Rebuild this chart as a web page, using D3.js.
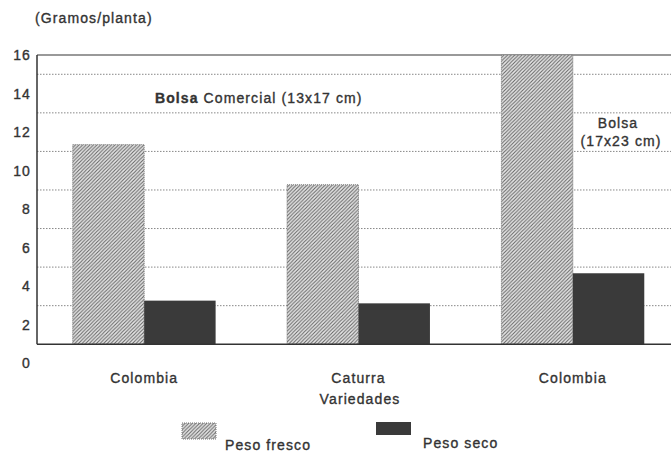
<!DOCTYPE html>
<html>
<head>
<meta charset="utf-8">
<script src="https://cdn.jsdelivr.net/npm/d3@7"></script>
<style>
  body { margin: 0; background: #fff; }
  text { font-family: "Liberation Sans", Arial, sans-serif; font-size: 14px; fill: #333; letter-spacing: 1.1px; stroke: #333; stroke-width: 0.35px; }
</style>
</head>
<body>
<div id="target"></div>
<script>
const width = 671,
  height = 454;

// data
const variedades = ["Colombia", "Caturra", "Colombia"];
const series = ["Peso fresco", "Peso seco"];
const pesoFresco = [11.35, 9.27, 16];
const pesoSeco = [3.26, 3.12, 4.68];
const yTicks = [0, 2, 4, 6, 8, 10, 12, 14, 16];
const gridValues = [3, 5, 7, 9, 11, 13, 15];
const baseValue = 1;

const left = 37,
  right = 680;

const y = d3.scaleLinear()
  .domain([0, 16])
  .range([363.5, 55]);

const x0 = d3.scaleBand()
  .domain(d3.range(variedades.length))
  .range([left, right])
  .paddingInner(1 / 3)
  .paddingOuter(1 / 6);

const x1 = d3.scaleBand()
  .domain(series)
  .range([0, x0.bandwidth()]);

const svg = d3.select("#target").append("svg")
  .attr("width", width)
  .attr("height", height);

const defs = svg.append("defs");
const hatch = defs.append("pattern")
  .attr("id", "hatch")
  .attr("patternUnits", "userSpaceOnUse")
  .attr("width", 3.6)
  .attr("height", 3.6);
hatch.append("rect")
  .attr("width", 3.6)
  .attr("height", 3.6)
  .attr("fill", "#e8e8e8");
hatch.append("path")
  .attr("d", "M-0.9,0.9 l1.8,-1.8 M0,3.6 l3.6,-3.6 M2.7,4.5 l1.8,-1.8")
  .attr("stroke", "#666")
  .attr("stroke-width", 1.1);

// title
svg.append("text")
  .attr("x", 35)
  .attr("y", 18)
  .attr("dy", "0.35em")
  .text("(Gramos/planta)");

// gridlines
svg.selectAll(".grid")
  .data(gridValues)
  .enter()
  .append("line")
  .attr("x1", left)
  .attr("x2", width)
  .attr("y1", (d) => y(d))
  .attr("y2", (d) => y(d))
  .attr("stroke", "#888")
  .attr("stroke-width", 1)
  .attr("stroke-dasharray", "1.5,1.5");

// frame top
svg.append("line")
  .attr("x1", left)
  .attr("x2", width)
  .attr("y1", y(16))
  .attr("y2", y(16))
  .attr("stroke", "#777")
  .attr("stroke-width", 1.5);

// bars
const groups = svg.selectAll(".group")
  .data(variedades)
  .enter()
  .append("g")
  .attr("transform", (d, i) => `translate(${x0(i)},0)`);

groups.append("rect")
  .attr("x", x1("Peso fresco"))
  .attr("width", x1.bandwidth())
  .attr("y", (d, i) => y(pesoFresco[i]))
  .attr("height", (d, i) => y(baseValue) - y(pesoFresco[i]))
  .attr("fill", "url(#hatch)")
  .attr("stroke", "#777")
  .attr("stroke-width", 1)
  .attr("stroke-dasharray", "1,1");

groups.append("rect")
  .attr("x", x1("Peso seco"))
  .attr("width", x1.bandwidth())
  .attr("y", (d, i) => y(pesoSeco[i]))
  .attr("height", (d, i) => y(baseValue) - y(pesoSeco[i]))
  .attr("fill", "#3a3a3a");

// axes lines
svg.append("line")
  .attr("x1", left)
  .attr("x2", left)
  .attr("y1", y(16))
  .attr("y2", y(baseValue))
  .attr("stroke", "#333")
  .attr("stroke-width", 1.5);

svg.append("line")
  .attr("x1", left)
  .attr("x2", width)
  .attr("y1", y(baseValue))
  .attr("y2", y(baseValue))
  .attr("stroke", "#333")
  .attr("stroke-width", 1.5);

// y axis labels
const yAxis = svg.append("g")
  .attr("transform", `translate(${left},0)`)
  .call(d3.axisLeft(y).tickValues(yTicks).tickSize(0).tickPadding(6));
yAxis.select(".domain").remove();
yAxis.selectAll("text")
  .attr("font-family", null)
  .attr("font-size", null)
  .style("fill", "#333");

// category labels
svg.selectAll(".cat")
  .data(variedades)
  .enter()
  .append("text")
  .attr("x", (d, i) => x0(i) + x0.bandwidth() / 2)
  .attr("y", 378)
  .attr("dy", "0.35em")
  .attr("text-anchor", "middle")
  .text((d) => d);

svg.append("text")
  .attr("x", 360)
  .attr("y", 399)
  .attr("dy", "0.35em")
  .attr("text-anchor", "middle")
  .text("Variedades");

// annotations
const ann = svg.append("text")
  .attr("x", 155)
  .attr("y", 98)
  .attr("dy", "0.35em");
ann.append("tspan").attr("font-weight", "bold").text("Bolsa");
ann.append("tspan").text(" Comercial (13x17 cm)");

svg.append("text")
  .attr("x", 618)
  .attr("y", 123)
  .attr("dy", "0.35em")
  .attr("text-anchor", "middle")
  .text("Bolsa");

svg.append("text")
  .attr("x", 621)
  .attr("y", 141)
  .attr("dy", "0.35em")
  .attr("text-anchor", "middle")
  .text("(17x23 cm)");

// legend
const legendItems = [
  { name: series[0], fill: "url(#hatch)", bx: 182, by: 423, bw: 34, bh: 16, tx: 225, ty: 445 },
  { name: series[1], fill: "#3a3a3a", bx: 376, by: 422, bw: 35, bh: 13, tx: 423, ty: 443 }
];

svg.selectAll(".legbox")
  .data(legendItems)
  .enter()
  .append("rect")
  .attr("x", (d) => d.bx)
  .attr("y", (d) => d.by)
  .attr("width", (d) => d.bw)
  .attr("height", (d) => d.bh)
  .attr("fill", (d) => d.fill)
  .attr("stroke", (d, i) => i === 0 ? "#777" : "none")
  .attr("stroke-dasharray", "1,1");

svg.selectAll(".legtext")
  .data(legendItems)
  .enter()
  .append("text")
  .attr("x", (d) => d.tx)
  .attr("y", (d) => d.ty)
  .attr("dy", "0.35em")
  .text((d) => d.name);
</script>
</body>
</html>
